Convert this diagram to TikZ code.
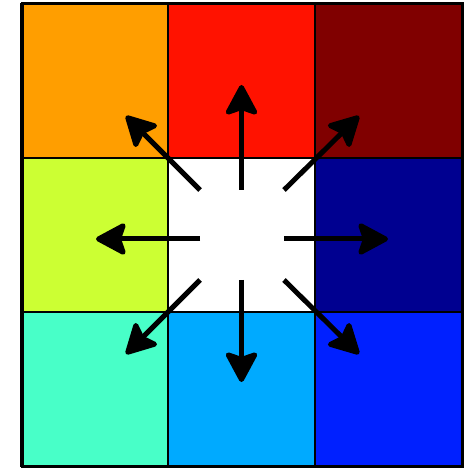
\documentclass[tikz,border=0pt]{standalone}
\usetikzlibrary{arrows.meta}
\definecolor{cOrange}{RGB}{255,158,0}
\definecolor{cRed}{RGB}{255,18,0}
\definecolor{cDarkRed}{RGB}{128,0,0}
\definecolor{cLime}{RGB}{204,255,51}
\definecolor{cNavy}{RGB}{0,0,144}
\definecolor{cAqua}{RGB}{72,255,200}
\definecolor{cSky}{RGB}{0,170,255}
\definecolor{cBlue}{RGB}{0,32,255}
\tikzset{
  cell/.style={draw=black, line width=2.5pt, minimum width=147pt, minimum height=154pt, inner sep=0pt, outer sep=0pt, anchor=center},
  dirarrow/.style={line width=5pt, -{Stealth[length=34pt 0 0, width=36pt 0 0, inset=6pt, round]}}
}
\begin{document}
\begin{tikzpicture}[x=1pt,y=-1pt]
\useasboundingbox (0,0) rectangle (472,468);
\fill[white] (0,0) rectangle (472,468);
\node[cell, fill=cOrange] (c11) at (95,81) {};
\node[cell, fill=cRed] (c12) at (241.5,81) {};
\node[cell, fill=cDarkRed] (c13) at (388.5,81) {};
\node[cell, fill=cLime] (c21) at (95,235) {};
\node[cell, fill=white] (c22) at (241.5,235) {};
\node[cell, fill=cNavy] (c23) at (388.5,235) {};
\node[cell, fill=cAqua] (c31) at (95,389) {};
\node[cell, fill=cSky] (c32) at (241.5,389) {};
\node[cell, fill=cBlue] (c33) at (388.5,389) {};
\draw[black, line width=3pt] (22,4) rectangle (462,466);
% arrow start/end points
\coordinate (sN) at (241.5,190); \coordinate (eN) at (241.5,85);
\coordinate (sS) at (241.5,280); \coordinate (eS) at (241.5,382);
\coordinate (sW) at (200,239); \coordinate (eW) at (96,239);
\coordinate (sE) at (284,239); \coordinate (eE) at (388,239);
\coordinate (sNW) at (200,190); \coordinate (eNW) at (126,116);
\coordinate (sNE) at (284,190); \coordinate (eNE) at (359,116);
\coordinate (sSW) at (200,280); \coordinate (eSW) at (126,354);
\coordinate (sSE) at (284,280); \coordinate (eSE) at (359,354);
\foreach \d in {N,S,W,E,NW,NE,SW,SE} \draw[dirarrow] (s\d) -- (e\d);
\end{tikzpicture}
\end{document}
